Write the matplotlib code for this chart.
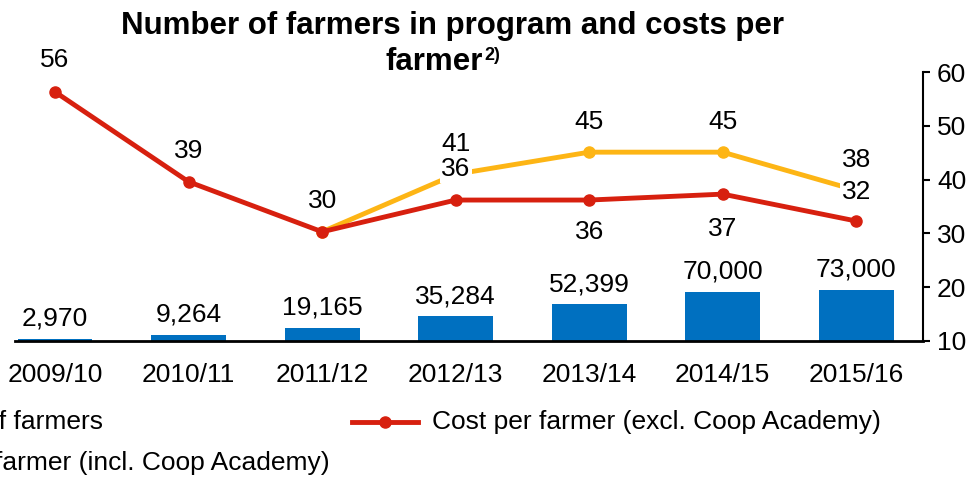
import matplotlib.pyplot as plt
from matplotlib.lines import Line2D
import numpy as np

plt.rcParams['font.family'] = ['Liberation Sans', 'DejaVu Sans']

seasons = ['2009/10', '2010/11', '2011/12', '2012/13', '2013/14', '2014/15', '2015/16']
farmers = [2970, 9264, 19165, 35284, 52399, 70000, 73000]
farmer_labels = ['2,970', '9,264', '19,165', '35,284', '52,399', '70,000', '73,000']
cost_excl = [56.3, 39.6, 30.3, 36.2, 36.2, 37.3, 32.3]
cost_excl_labels = ['56', '39', '30', '36', '36', '37', '32']
cost_incl = [np.nan, np.nan, 30.3, 41.0, 45.1, 45.1, 38.0]
cost_incl_labels = ['', '', '', '41', '45', '45', '38']

blue = '#0070C0'
red = '#D7200F'
yellow = '#FDB515'
fs = 19

fig = plt.figure(figsize=(9.71, 4.78), dpi=100)
ax = fig.add_axes([15/971, 1-341/478, 908/971, 269/478])
ax2 = ax.twinx()

x = np.arange(len(seasons))
ax.bar(x, farmers, width=0.56, color=blue, zorder=2)
for xi, v, lab in zip(x, farmers, farmer_labels):
    ax.annotate(lab, (xi, v), xytext=(0, 6), textcoords='offset points',
                ha='center', va='bottom', fontsize=fs)
ax.set_ylim(0, 385000)
ax.set_xlim(-0.3, 6.5)
ax.set_yticks([])
for s in ['left', 'top', 'right']:
    ax.spines[s].set_visible(False)
ax.spines['bottom'].set_linewidth(2)
ax.set_xticks(x)
ax.set_xticklabels(seasons, fontsize=fs)
ax.tick_params(axis='x', length=0, pad=16)

ax2.plot(x, cost_incl, color=yellow, lw=3.5, marker='o', ms=8, zorder=3)
ax2.plot(x, cost_excl, color=red, lw=3.5, marker='o', ms=8, zorder=4)
ax2.set_ylim(10, 60)
ax2.set_yticks([10, 20, 30, 40, 50, 60])
ax2.tick_params(axis='y', labelsize=fs, length=5, width=1.5, direction='out', pad=5)
for s in ['left', 'top', 'bottom']:
    ax2.spines[s].set_visible(False)
ax2.spines['right'].set_linewidth(1.5)

# red line labels: offsets in points (above positive, below negative)
red_off = [23, 22, 22, 22, -23, -25, 21]
red_box = [False, False, False, True, False, False, True]
for xi, v, lab, off, box in zip(x, cost_excl, cost_excl_labels, red_off, red_box):
    kw = {}
    if box:
        kw['bbox'] = dict(boxstyle='square,pad=0.05', fc='white', ec='none')
    ax2.annotate(lab, (xi, v), xytext=(0, off), textcoords='offset points',
                 ha='center', va='center', fontsize=fs, zorder=6, **kw)
for xi, v, lab in zip(x, cost_incl, cost_incl_labels):
    if lab:
        ax2.annotate(lab, (xi, v), xytext=(0, 22), textcoords='offset points',
                     ha='center', va='center', fontsize=fs, zorder=6)

# title
fig.text(452/971, 1-26/478, 'Number of farmers in program and costs per',
         ha='center', va='center', fontsize=22.5, fontweight='bold')
fig.text(483/971, 1-62/478, 'farmer', ha='right', va='center', fontsize=22.5, fontweight='bold')
fig.text(484/971, 1-56/478, '2)', ha='left', va='center', fontsize=13, fontweight='bold')

# legend (left part runs off the figure edge, as in the source)
ly1 = 1 - 422/478
ly2 = 1 - 463/478
fig.text(103/971, ly1, 'Number of farmers', ha='right', va='center', fontsize=fs)
fig.add_artist(Line2D([352/971, 418/971], [ly1, ly1], color=red, lw=3.5))
fig.add_artist(Line2D([385/971], [ly1], color=red, marker='o', ms=8, lw=0))
fig.text(432/971, ly1, 'Cost per farmer (excl. Coop Academy)', ha='left', va='center', fontsize=fs)
fig.text(330/971, ly2, 'Cost per farmer (incl. Coop Academy)', ha='right', va='center', fontsize=fs)

fig.savefig('out.png', dpi=100)
